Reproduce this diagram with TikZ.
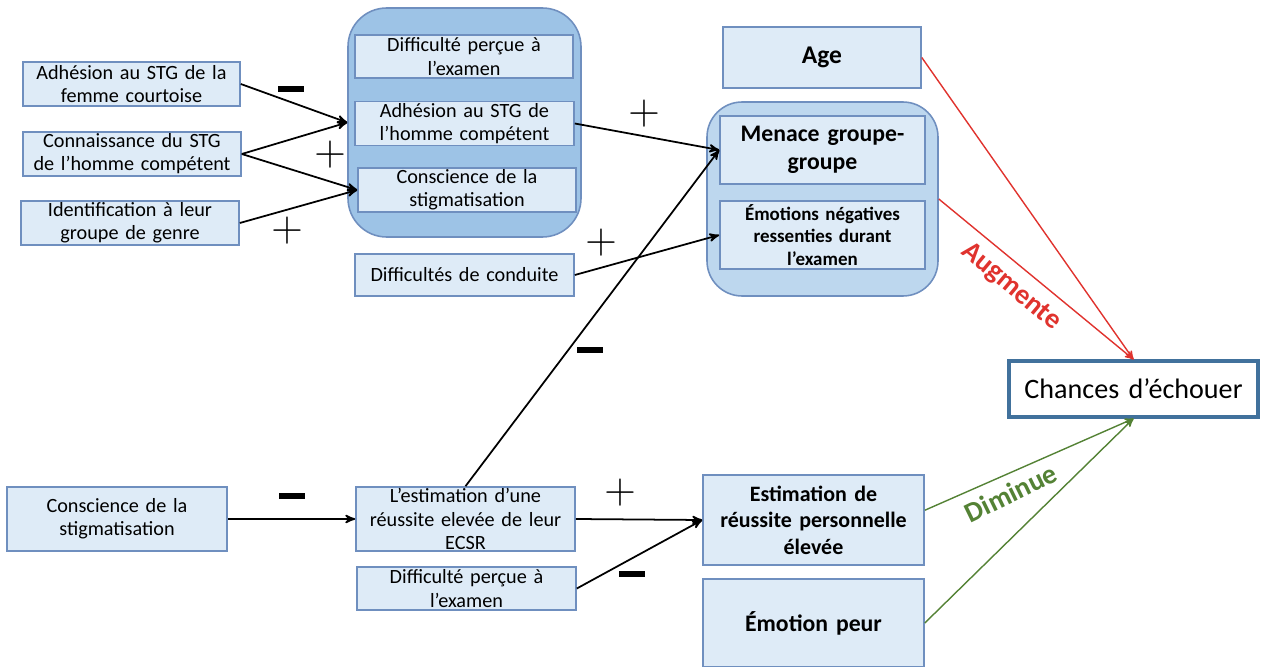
\documentclass[tikz,border=0pt]{standalone}
\usepackage{fontspec}
\setmainfont{Carlito}
\usetikzlibrary{arrows,shapes}
\definecolor{bleuclair}{HTML}{DEEBF7}
\definecolor{bleumoyen}{HTML}{BDD7EE}
\definecolor{bleufonce}{HTML}{9DC3E6}
\definecolor{bordbleu}{HTML}{6F8FBF}
\definecolor{bordfort}{HTML}{41719C}
\definecolor{rouge}{HTML}{E0332E}
\definecolor{vert}{HTML}{548235}
\tikzset{
  boite/.style = {rectangle, align=center, inner sep=1pt, draw=bordbleu,
    fill=bleuclair, line width=0.9pt, minimum width=4.36cm,
    minimum height=0.86cm, text width=4.2cm,
    font=\fontsize{11.5}{13.2}\selectfont},% boite simple
  boite_g/.style = {boite, font=\bfseries\fontsize{12.5}{15}\selectfont},% boite en gras
  boite_r/.style = {boite, fill=white, draw=bordfort, line width=1.8pt,
    font=\fontsize{16}{18}\selectfont},% boite resultat
  groupe_f/.style = {rectangle, rounded corners=22pt, draw=bordbleu,
    fill=bleufonce, line width=0.9pt},% groupe fonce
  groupe_c/.style = {groupe_f, rounded corners=20pt, fill=bleumoyen},% groupe clair
  signe/.style = {inner sep=0pt, font=\fontsize{28}{28}\selectfont},% signe plus
  signe_m/.style = {inner sep=0pt},% signe moins
  lien_r/.style = {draw=rouge, line width=0.8pt},% lien rouge
  lien_v/.style = {draw=vert, line width=0.8pt}% lien vert
}
\newcommand{\moins}{\rule{14.5pt}{3.8pt}}

\begin{document}
\begin{tikzpicture}[->,>=stealth',line width=1pt]
\useasboundingbox (0,0) rectangle (25.22,-13.34);
% groupes
\node [groupe_f, minimum width=4.66cm, minimum height=4.58cm] (g1) at (9.29,-2.45) {};
\node [groupe_c, minimum width=4.62cm, minimum height=3.88cm] (g2) at (16.45,-3.98) {};
% colonne de gauche
\node [boite, minimum width=4.34cm, minimum height=0.88cm] (a1) at (2.63,-1.68)
  {Adhésion au STG de la\\femme courtoise};
\node [boite, minimum height=0.88cm] (a2) at (2.64,-3.08)
  {Connaissance du STG\\de l’homme compétent};
\node [boite, minimum height=0.88cm] (a3) at (2.60,-4.46)
  {Identification à leur\\groupe de genre};
% premier groupe
\node [boite] (b1) at (9.28,-1.13) {Difficulté perçue à\\l’examen};
\node [boite, minimum width=4.38cm] (b2) at (9.29,-2.47) {Adhésion au STG de\\l’homme compétent};
\node [boite, minimum height=0.88cm] (b3) at (9.34,-3.80) {Conscience de la\\stigmatisation};
\node [boite, minimum width=4.38cm, minimum height=0.84cm] (c) at (9.29,-5.50) {Difficultés de conduite};
% second groupe
\node [boite_g, minimum width=3.96cm, minimum height=1.22cm, text width=3.8cm,
  font=\bfseries\fontsize{14.5}{17}\selectfont] (age) at (16.44,-1.15) {Age};
\node [boite_g, minimum width=4.10cm, minimum height=1.36cm, text width=3.9cm,
  font=\bfseries\fontsize{13.5}{16}\selectfont] (d1) at (16.45,-3.00) {Menace groupe-\\groupe};
\node [boite_g, minimum width=4.10cm, minimum height=1.36cm, text width=3.9cm, inner ysep=-2pt,
  font=\bfseries\fontsize{10.8}{13}\selectfont] (d2) at (16.45,-4.70)
  {Émotions négatives\\ressenties durant\\l’examen};
\node [boite_r, minimum width=4.98cm, minimum height=1.12cm, text width=4.8cm] (ch) at (22.67,-7.78)
  {Chances d’échouer};
% bas
\node [boite, minimum width=4.40cm, minimum height=1.28cm] (e1) at (2.34,-10.38)
  {Conscience de la\\stigmatisation};
\node [boite, minimum width=4.38cm, minimum height=1.28cm, inner ysep=-3pt] (e2) at (9.31,-10.38)
  {L’estimation d’une\\réussite elevée de leur\\ECSR};
\node [boite, minimum width=4.38cm] (e3) at (9.33,-11.77) {Difficulté perçue à\\l’examen};
\node [boite_g, minimum width=4.42cm, minimum height=1.80cm] (f1) at (16.27,-10.40)
  {Estimation de\\réussite personnelle\\élevée};
\node [boite_g, minimum width=4.42cm, minimum height=1.76cm,
  font=\bfseries\fontsize{13.5}{16}\selectfont] (f2) at (16.27,-12.46) {Émotion peur};
% liens
\draw (a1.east) -- (g1.west);
\draw (a2.east) -- (g1.west);
\draw (a2.east) -- (b3.west);
\draw (a3.east) -- (b3.west);
\draw (b2.east) -- (d1.west);
\draw (c.east) -- (d2.west);
\draw (e2.north) -- (d1.west);
\draw (e1.east) -- (e2.west);
\draw (e2.east) -- (f1.west);
\draw (e3.east) -- (f1.west);
\draw [lien_r] (age.east) -- (ch.north);
\draw [lien_r] (g2.east) -- (ch.north);
\draw [lien_v] (f1.5) -- (ch.south);
\draw [lien_v] (f2.east) -- (ch.south);
% signes
\node [signe_m] (s1) at (5.82,-1.78) {\moins};
\node [signe] (s2) at (6.60,-3.10) {$+$};
\node [signe] (s3) at (5.74,-4.62) {$+$};
\node [signe] (s4) at (12.88,-2.28) {$+$};
\node [signe] (s5) at (12.02,-4.86) {$+$};
\node [signe_m] (s6) at (11.80,-7.00) {\moins};
\node [signe_m] (s7) at (5.84,-9.92) {\moins};
\node [signe] (s8) at (12.40,-9.86) {$+$};
\node [signe_m] (s9) at (12.64,-11.48) {\moins};
\node [rouge, rotate=-40, font=\bfseries\fontsize{16}{16}\selectfont] (aug) at (20.22,-5.74) {Augmente};
\node [vert, rotate=26, font=\bfseries\fontsize{16}{16}\selectfont] (dim) at (20.22,-9.86) {Diminue};
\end{tikzpicture}
\end{document}
